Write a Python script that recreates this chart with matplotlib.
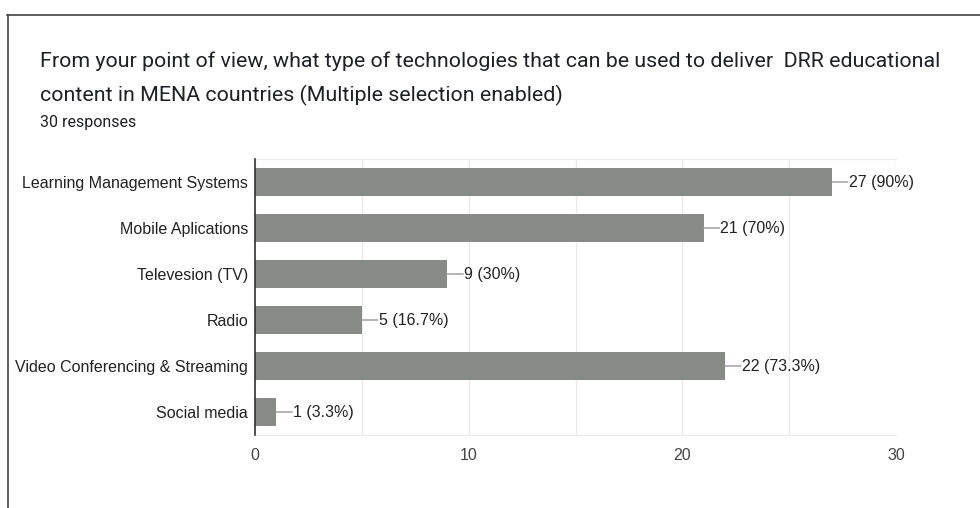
import matplotlib
matplotlib.use("Agg")
import matplotlib.pyplot as plt
from matplotlib.lines import Line2D

categories = ["Learning Management Systems", "Mobile Aplications", "Televesion (TV)",
              "Radio", "Video Conferencing & Streaming", "Social media"]
counts = [27, 21, 9, 5, 22, 1]
labels = ["27 (90%)", "21 (70%)", "9 (30%)", "5 (16.7%)", "22 (73.3%)", "1 (3.3%)"]
xticks = [0, 10, 20, 30]
grid_ticks = [0, 5, 10, 15, 20, 25, 30]

title_lines = ["From your point of view, what type of technologies that can be used to deliver  DRR educational",
               "content in MENA countries (Multiple selection enabled)"]
subtitle = "30 responses"

W, H = 980, 508
fig = plt.figure(figsize=(W / 100, H / 100), dpi=100)
fig.patch.set_facecolor("white")

# frame lines (top and left)
fig.add_artist(Line2D([7 / W, 1.0], [1 - 14.5 / H] * 2, transform=fig.transFigure,
                      color="#444444", lw=1.2))
fig.add_artist(Line2D([7.5 / W] * 2, [0, 1 - 14.5 / H], transform=fig.transFigure,
                      color="#444444", lw=1.2))

for txt, yb in zip(title_lines, [67, 101]):
    fig.text(40 / W, 1 - yb / H, txt, fontsize=15.4, family="Roboto", color="#202124",
             va="baseline", ha="left")
fig.text(40 / W, 1 - 127 / H, subtitle, fontsize=11.5, family="Roboto", color="#202124",
         va="baseline", ha="left")

ax = fig.add_axes([255 / W, 1 - 435 / H, (896 - 255) / W, (435 - 159) / H])
ypos = list(range(len(categories)))
ax.barh(ypos, counts, height=0.61, color="#878a87", zorder=3)
ax.set_ylim(len(categories) - 0.5, -0.5)
ax.set_xlim(0, 30)
ax.set_yticks(ypos)
ax.set_yticklabels(categories, fontsize=11.5, family="Liberation Sans", color="#222222")
ax.set_xticks(xticks)
ax.set_xticklabels([str(t) for t in xticks], fontsize=11.5, family="Liberation Sans", color="#444444")
ax.set_xticks(grid_ticks, minor=True)
ax.tick_params(axis="both", which="both", length=0)
ax.tick_params(axis="y", pad=5)
ax.tick_params(axis="x", pad=9)
ax.grid(axis="x", which="both", color="#ebebeb", lw=1, zorder=0)
for s in ["top", "right", "bottom"]:
    ax.spines[s].set_color("#ebebeb")
ax.spines["right"].set_visible(False)
ax.spines["left"].set_color("#333333")
ax.spines["left"].set_linewidth(1.2)
ax.spines["left"].set_zorder(5)

for y, v, lab in zip(ypos, counts, labels):
    ax.annotate("", xy=(v, y), xytext=(11.5, 0), textcoords="offset points",
                xycoords="data",
                arrowprops=dict(arrowstyle="-", color="#999999", lw=1, shrinkA=0, shrinkB=0))
    ax.annotate(lab, xy=(v, y), xytext=(12, 0), textcoords="offset points",
                va="center", ha="left", fontsize=11.5, family="Liberation Sans",
                color="#222222")

fig.savefig("out.png", dpi=100, facecolor="white")
